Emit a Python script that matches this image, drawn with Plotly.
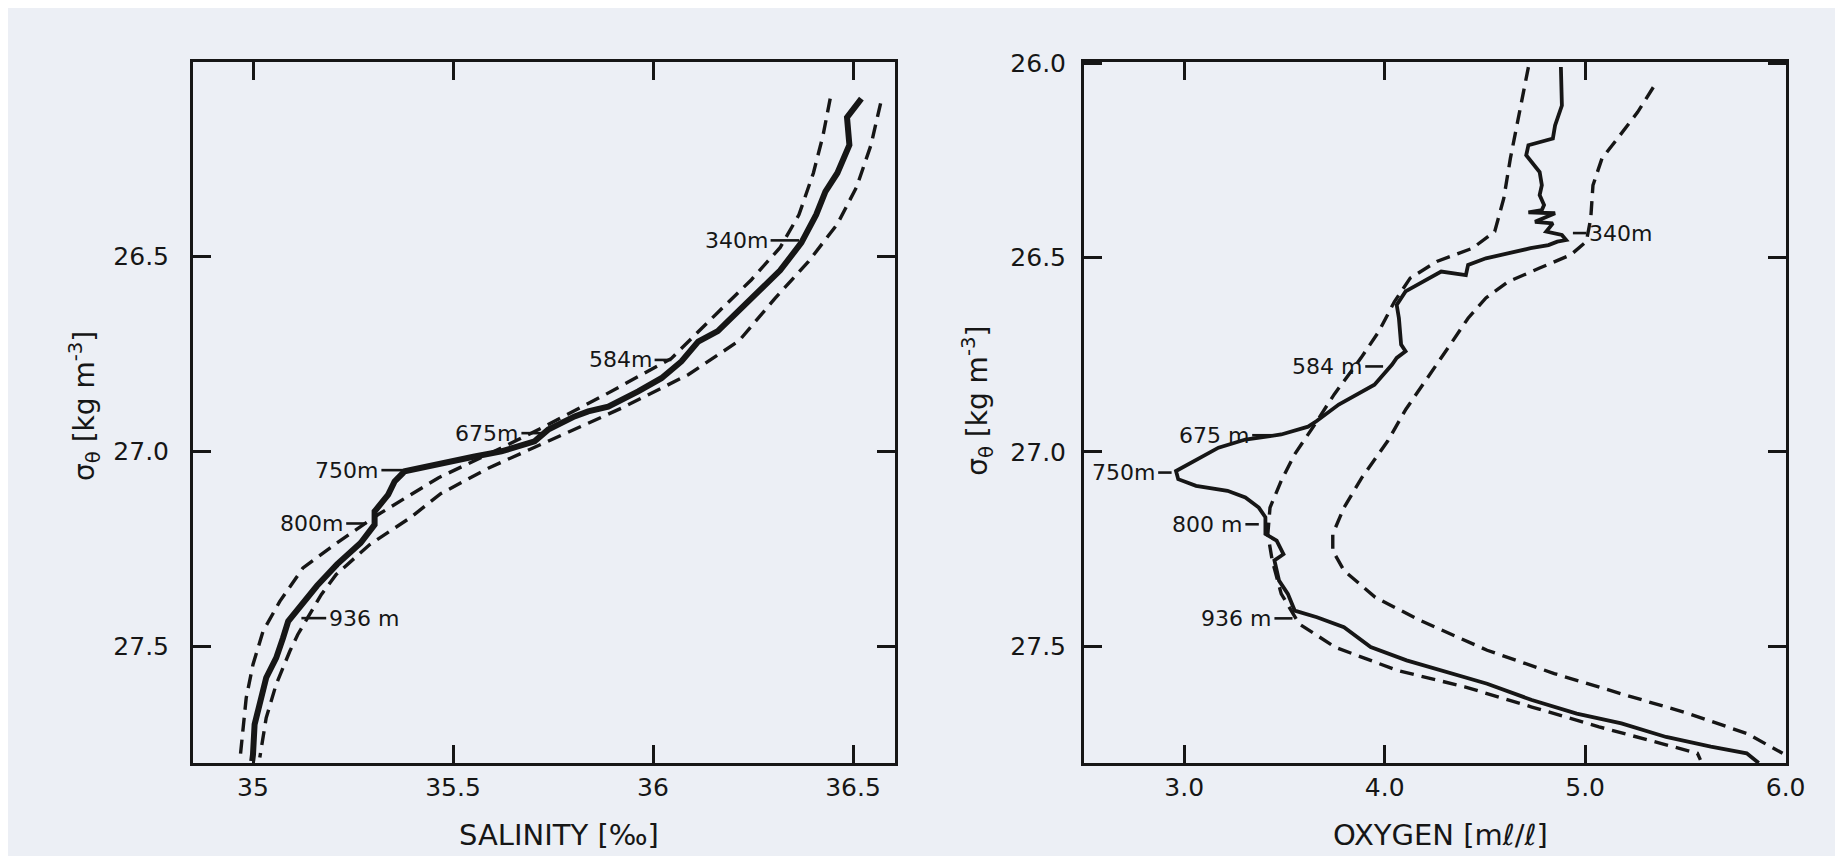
import plotly.graph_objects as go

# ---------------- data ----------------
# Left panel: salinity vs sigma-theta
sal_obs_s = [36.521, 36.485, 36.491, 36.461, 36.431, 36.408, 36.371, 36.318, 36.246, 36.162,
             36.113, 36.071, 36.021, 35.963, 35.888, 35.838, 35.804, 35.738, 35.704, 35.621,
             35.554, 35.488, 35.438, 35.379, 35.354, 35.338, 35.304, 35.304, 35.269, 35.210,
             35.160, 35.118, 35.088, 35.075, 35.058, 35.033, 35.017, 35.004, 35.000, 34.998]
sal_obs_sig = [26.094, 26.142, 26.213, 26.285, 26.333, 26.392, 26.464, 26.535, 26.607, 26.691,
               26.718, 26.769, 26.812, 26.846, 26.885, 26.897, 26.910, 26.944, 26.974, 27.000,
               27.013, 27.026, 27.038, 27.051, 27.077, 27.111, 27.154, 27.188, 27.235, 27.290,
               27.345, 27.400, 27.436, 27.479, 27.530, 27.581, 27.650, 27.701, 27.778, 27.795]

sal_lo_s = [36.443, 36.425, 36.401, 36.365, 36.318, 36.246, 36.162, 36.046, 35.879, 35.721,
            35.621, 35.463, 35.313, 35.204, 35.125, 35.067, 35.025, 35.000, 34.983, 34.975, 34.967]
sal_lo_sig = [26.094, 26.189, 26.285, 26.392, 26.476, 26.559, 26.643, 26.761, 26.855, 26.940,
              26.991, 27.068, 27.162, 27.239, 27.299, 27.385, 27.462, 27.547, 27.633, 27.718, 27.795]

sal_hi_s = [36.569, 36.545, 36.509, 36.461, 36.389, 36.305, 36.215, 36.088, 35.921, 35.754,
            35.588, 35.470, 35.392, 35.292, 35.254, 35.208, 35.171, 35.142, 35.112, 35.092,
            35.058, 35.033, 35.017]
sal_hi_sig = [26.106, 26.213, 26.321, 26.416, 26.512, 26.607, 26.716, 26.803, 26.889, 26.966,
              27.043, 27.108, 27.171, 27.239, 27.274, 27.316, 27.367, 27.419, 27.470, 27.513,
              27.598, 27.684, 27.786]

# Right panel: oxygen vs sigma-theta
oxy_obs_o = [4.879, 4.884, 4.850, 4.839, 4.717, 4.706, 4.773, 4.784, 4.773, 4.795,
             4.784, 4.717, 4.850, 4.750, 4.839, 4.806, 4.884, 4.905, 4.861, 4.817,
             4.728, 4.594, 4.505, 4.416, 4.405, 4.282, 4.194, 4.104, 4.060, 4.071,
             4.082, 4.104, 4.060, 4.037, 3.949, 3.859, 3.771, 3.659, 3.618, 3.484,
             3.305, 3.171, 3.082, 3.015, 2.959, 2.970, 3.059, 3.216, 3.305, 3.372,
             3.405, 3.405, 3.461, 3.495, 3.450, 3.473, 3.517, 3.551, 3.662, 3.797,
             3.930, 4.109, 4.288, 4.511, 4.734, 4.958, 5.181, 5.404, 5.627, 5.806, 5.866]
oxy_obs_sig = [26.010, 26.109, 26.160, 26.194, 26.211, 26.237, 26.280, 26.314, 26.339, 26.365,
               26.378, 26.384, 26.386, 26.408, 26.412, 26.433, 26.442, 26.455, 26.459, 26.468,
               26.476, 26.493, 26.502, 26.519, 26.545, 26.536, 26.562, 26.587, 26.622, 26.656,
               26.724, 26.741, 26.758, 26.775, 26.827, 26.852, 26.878, 26.921, 26.935, 26.955,
               26.968, 26.989, 27.015, 27.032, 27.049, 27.070, 27.087, 27.100, 27.117, 27.143,
               27.168, 27.211, 27.228, 27.263, 27.279, 27.331, 27.365, 27.408, 27.425, 27.451,
               27.502, 27.536, 27.562, 27.596, 27.638, 27.673, 27.698, 27.733, 27.758, 27.775, 27.800]

oxy_lo_o = [4.717, 4.672, 4.627, 4.594, 4.549, 4.438, 4.260, 4.127, 4.049, 3.971,
            3.882, 3.748, 3.690, 3.640, 3.551, 3.484, 3.428, 3.417, 3.439, 3.484,
            3.573, 3.752, 4.064, 4.399, 4.734, 5.069, 5.381, 5.560, 5.575]
oxy_lo_sig = [26.010, 26.126, 26.245, 26.348, 26.433, 26.476, 26.510, 26.553, 26.613, 26.690,
              26.758, 26.852, 26.900, 26.938, 27.006, 27.074, 27.143, 27.211, 27.279, 27.365,
              27.442, 27.502, 27.562, 27.604, 27.656, 27.707, 27.750, 27.775, 27.792]

oxy_hi_o = [5.340, 5.262, 5.173, 5.084, 5.039, 5.028, 5.006, 4.928, 4.773, 4.617,
            4.505, 4.416, 4.327, 4.216, 4.106, 4.015, 3.886, 3.797, 3.741, 3.741,
            3.797, 3.953, 4.176, 4.511, 4.846, 5.181, 5.516, 5.806, 5.985]
oxy_hi_sig = [26.062, 26.126, 26.186, 26.245, 26.314, 26.399, 26.459, 26.493, 26.527, 26.562,
              26.604, 26.656, 26.724, 26.809, 26.890, 26.972, 27.066, 27.143, 27.211, 27.254,
              27.305, 27.374, 27.433, 27.510, 27.570, 27.622, 27.673, 27.724, 27.775]

# Depth labels: text, sigma, leader-line start / end, side of text
sal_lab_text = ["340m", "584m", "675m", "750m", "800m", "936 m"]
sal_lab_sig = [26.458, 26.765, 26.953, 27.048, 27.185, 27.428]
sal_lab_x0 = [36.294, 36.004, 35.671, 35.321, 35.233, 35.121]
sal_lab_x1 = [36.365, 36.046, 35.721, 35.375, 35.283, 35.183]
sal_lab_side = ["left", "left", "left", "left", "left", "right"]

oxy_lab_text = ["340m", "584 m", "675 m", "750m", "800 m", "936 m"]
oxy_lab_sig = [26.437, 26.780, 26.957, 27.053, 27.186, 27.428]
oxy_lab_x0 = [4.939, 3.903, 3.339, 2.870, 3.305, 3.450]
oxy_lab_x1 = [5.006, 3.992, 3.439, 2.937, 3.372, 3.540]
oxy_lab_side = ["right", "left", "left", "left", "left", "left"]

sal_ticks = [35, 35.5, 36, 36.5]
sal_ticktext = ["35", "35.5", "36", "36.5"]
oxy_ticks = [3, 4, 5, 6]
oxy_ticktext = ["3.0", "4.0", "5.0", "6.0"]
sig_ticks_left = [26.5, 27.0, 27.5]
sig_ticks_right = [26.0, 26.5, 27.0, 27.5]
sig_ticktext_left = ["26.5", "27.0", "27.5"]
sig_ticktext_right = ["26.0", "26.5", "27.0", "27.5"]

# ---------------- styling ----------------
INK = "#161616"
PAPER = "#eceff5"
FONT = "DejaVu Sans"
DASH = "14px,8px"

fig = go.Figure()

# salinity panel
fig.add_trace(go.Scatter(x=sal_lo_s, y=sal_lo_sig, mode="lines", xaxis="x", yaxis="y",
                         line=dict(color=INK, width=3.4, dash=DASH), hoverinfo="skip"))
fig.add_trace(go.Scatter(x=sal_hi_s, y=sal_hi_sig, mode="lines", xaxis="x", yaxis="y",
                         line=dict(color=INK, width=3.4, dash=DASH), hoverinfo="skip"))
fig.add_trace(go.Scatter(x=sal_obs_s, y=sal_obs_sig, mode="lines", xaxis="x", yaxis="y",
                         line=dict(color=INK, width=6)))

# oxygen panel
fig.add_trace(go.Scatter(x=oxy_lo_o, y=oxy_lo_sig, mode="lines", xaxis="x2", yaxis="y2",
                         line=dict(color=INK, width=3.4, dash=DASH), hoverinfo="skip"))
fig.add_trace(go.Scatter(x=oxy_hi_o, y=oxy_hi_sig, mode="lines", xaxis="x2", yaxis="y2",
                         line=dict(color=INK, width=3.4, dash=DASH), hoverinfo="skip"))
fig.add_trace(go.Scatter(x=oxy_obs_o, y=oxy_obs_sig, mode="lines", xaxis="x2", yaxis="y2",
                         line=dict(color=INK, width=3.8)))

annotations = []
shapes = []
LAB_FONT = dict(family=FONT, size=22, color=INK)


def add_labels(texts, sigs, x0s, x1s, sides, xref, yref):
    for t, s, a, b, side in zip(texts, sigs, x0s, x1s, sides):
        shapes.append(dict(type="line", xref=xref, yref=yref, x0=a, x1=b, y0=s, y1=s,
                           line=dict(color=INK, width=2.6)))
        if side == "left":
            annotations.append(dict(x=a, y=s, xref=xref, yref=yref, text=t, showarrow=False,
                                    xanchor="right", yanchor="middle", xshift=-1,
                                    font=LAB_FONT))
        else:
            annotations.append(dict(x=b, y=s, xref=xref, yref=yref, text=t, showarrow=False,
                                    xanchor="left", yanchor="middle", xshift=1,
                                    font=LAB_FONT))


add_labels(sal_lab_text, sal_lab_sig, sal_lab_x0, sal_lab_x1, sal_lab_side, "x", "y")
add_labels(oxy_lab_text, oxy_lab_sig, oxy_lab_x0, oxy_lab_x1, oxy_lab_side, "x2", "y2")

title_font = dict(family=FONT, size=29, color=INK)
ytitle_font = dict(family=FONT, size=28, color=INK)
annotations += [
    dict(x=0.299, y=0.034, xref="paper", yref="paper", text="SALINITY [‰]", showarrow=False,
         xanchor="center", yanchor="middle", font=title_font),
    dict(x=0.7775, y=0.034, xref="paper", yref="paper", text="OXYGEN [mℓ/ℓ]", showarrow=False,
         xanchor="center", yanchor="middle", font=title_font),
    dict(x=0.0412, y=0.535, xref="paper", yref="paper",
         text="σ<sub>θ</sub> [kg m<sup>-3</sup>]", showarrow=False, textangle=-90,
         xanchor="center", yanchor="middle", font=ytitle_font),
    dict(x=0.5263, y=0.541, xref="paper", yref="paper",
         text="σ<sub>θ</sub> [kg m<sup>-3</sup>]", showarrow=False, textangle=-90,
         xanchor="center", yanchor="middle", font=ytitle_font),
]

axis_common = dict(showgrid=False, zeroline=False, showline=True, linewidth=3, linecolor=INK,
                   mirror="ticks", ticks="inside", ticklen=18, tickwidth=3, tickcolor=INK,
                   tickfont=dict(family=FONT, size=25, color=INK), automargin=False)

ydom = [1 - 755 / 856, 1 - 54 / 856]

fig.update_layout(
    width=1843, height=856,
    margin=dict(l=0, r=0, t=0, b=0),
    paper_bgcolor=PAPER, plot_bgcolor=PAPER,
    showlegend=False,
    xaxis=dict(domain=[185 / 1843, 887 / 1843], range=[34.85, 36.605],
               tickvals=sal_ticks, ticktext=sal_ticktext, anchor="y",
               ticklabelstandoff=0, **axis_common),
    yaxis=dict(domain=ydom, range=[27.8, 26.0], tickvals=sig_ticks_left,
               ticktext=sig_ticktext_left, anchor="x", ticklabelstandoff=16, **axis_common),
    xaxis2=dict(domain=[1076 / 1843, 1778 / 1843], range=[2.5, 6.002],
                tickvals=oxy_ticks, ticktext=oxy_ticktext, anchor="y2",
                ticklabelstandoff=0, **axis_common),
    yaxis2=dict(domain=ydom, range=[27.8, 25.997], tickvals=sig_ticks_right,
                ticktext=sig_ticktext_right, anchor="x2", ticklabelstandoff=10, **axis_common),
    annotations=annotations,
    shapes=shapes,
)

fig.write_html("out.html")
